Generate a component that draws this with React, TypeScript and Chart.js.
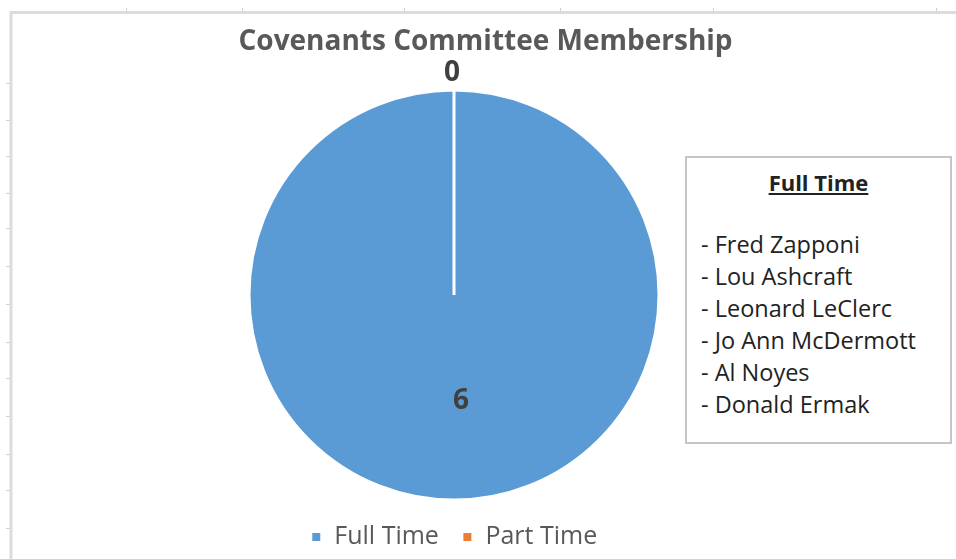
import React, { useEffect, useRef } from "react";
import { Chart, registerables } from "chart.js";

Chart.register(...registerables);

const categories = ["Full Time", "Part Time"];
const memberCounts = [6, 0];
const sliceColors = ["#5B9BD5", "#ED7D31"];
const chartTitle = "Covenants Committee Membership";
const noteTitle = "Full Time";
const fullTimeMembers = [
  "Fred Zapponi",
  "Lou Ashcraft",
  "Leonard LeClerc",
  "Jo Ann McDermott",
  "Al Noyes",
  "Donald Ermak",
];

const FONT = "'Open Sans', 'Noto Sans', sans-serif";
const topTicks = [126, 242, 404, 560, 713, 936];
const leftTicks = [83, 120, 156, 193, 228, 266, 304, 342, 378, 416, 454, 490, 528];

const framePlugin = {
  id: "frame",
  beforeDraw(chart: any) {
    const ctx = chart.ctx;
    ctx.save();
    ctx.fillStyle = "#ffffff";
    ctx.fillRect(0, 0, chart.width, chart.height);
    ctx.strokeStyle = "#dcdcdc";
    ctx.lineWidth = 3;
    ctx.beginPath();
    ctx.moveTo(9.5, 12.5);
    ctx.lineTo(chart.width, 12.5);
    ctx.moveTo(11, 11);
    ctx.lineTo(11, chart.height);
    ctx.stroke();
    ctx.lineWidth = 1;
    ctx.strokeStyle = "#d0d0d0";
    ctx.beginPath();
    topTicks.forEach((x) => {
      ctx.moveTo(x + 0.5, 8);
      ctx.lineTo(x + 0.5, 11);
    });
    leftTicks.forEach((y) => {
      ctx.moveTo(6, y + 0.5);
      ctx.lineTo(10, y + 0.5);
    });
    ctx.stroke();
    ctx.restore();
  },
};

const titlePlugin = {
  id: "customTitle",
  afterDraw(chart: any) {
    const ctx = chart.ctx;
    ctx.save();
    ctx.fillStyle = "#595959";
    ctx.font = `bold 28px ${FONT}`;
    ctx.textAlign = "center";
    ctx.textBaseline = "alphabetic";
    ctx.fillText(chartTitle, 485.5, 49.5);
    ctx.restore();
  },
};

const labelPlugin = {
  id: "sliceLabels",
  afterDatasetsDraw(chart: any) {
    const ctx = chart.ctx;
    const meta = chart.getDatasetMeta(0);
    const values = chart.data.datasets[0].data as number[];
    const size = 28;
    ctx.save();
    ctx.fillStyle = "#404040";
    ctx.font = `bold ${size}px ${FONT}`;
    ctx.textAlign = "center";
    ctx.textBaseline = "alphabetic";
    meta.data.forEach((arc: any, i: number) => {
      const { x, y, startAngle, endAngle, outerRadius } = arc.getProps(
        ["x", "y", "startAngle", "endAngle", "outerRadius"],
        true
      );
      const mid = (startAngle + endAngle) / 2;
      const r = values[i] === 0 ? outerRadius + 19 : outerRadius * 0.5 + 2;
      const dx = values[i] === 0 ? -2 : 7;
      ctx.fillText(
        String(values[i]),
        x + Math.cos(mid) * r + dx,
        y + Math.sin(mid) * r + size * 0.357
      );
    });
    ctx.restore();
  },
};

export default function App() {
  const canvasRef = useRef<HTMLCanvasElement | null>(null);

  useEffect(() => {
    if (!canvasRef.current) return;
    const chart = new Chart(canvasRef.current, {
      type: "pie",
      data: {
        labels: categories,
        datasets: [
          {
            data: memberCounts,
            backgroundColor: sliceColors,
            borderColor: "#ffffff",
            borderWidth: 3,
          },
        ],
      },
      options: {
        responsive: false,
        animation: false,
        layout: {
          padding: { left: 247.5, right: 295.5, top: 88.5, bottom: -0.5 },
        },
        plugins: {
          title: { display: false },
          tooltip: { enabled: false },
          legend: {
            display: true,
            position: "bottom",
            labels: {
              boxWidth: 11,
              boxHeight: 11,
              padding: 23,
              color: "#595959",
              font: { family: FONT, size: 25 },
            },
          },
        },
      },
      plugins: [framePlugin, titlePlugin, labelPlugin],
    });
    return () => chart.destroy();
  }, []);

  return (
    <div
      style={{
        position: "fixed",
        left: 0,
        top: 0,
        width: 956,
        height: 559,
        background: "#ffffff",
        overflow: "hidden",
      }}
    >
      <canvas ref={canvasRef} width={956} height={559} style={{ position: "absolute", left: 0, top: 0 }} />
      <div
        style={{
          position: "absolute",
          left: 685,
          top: 156,
          width: 267,
          height: 288,
          boxSizing: "border-box",
          border: "2px solid #c6c6c6",
          background: "#ffffff",
          fontFamily: FONT,
          color: "#222222",
        }}
      >
        <div
          style={{
            position: "absolute",
            left: 0,
            right: 0,
            top: 8,
            lineHeight: "32px",
            fontSize: 22,
            fontWeight: "bold",
            textAlign: "center",
            textDecoration: "underline",
          }}
        >
          {noteTitle}
        </div>
        <div
          style={{
            position: "absolute",
            left: 14,
            top: 70,
            lineHeight: "32px",
            fontSize: 23.5,
            whiteSpace: "nowrap",
          }}
        >
          {fullTimeMembers.map((name) => (
            <div key={name}>{"- " + name}</div>
          ))}
        </div>
      </div>
    </div>
  );
}
